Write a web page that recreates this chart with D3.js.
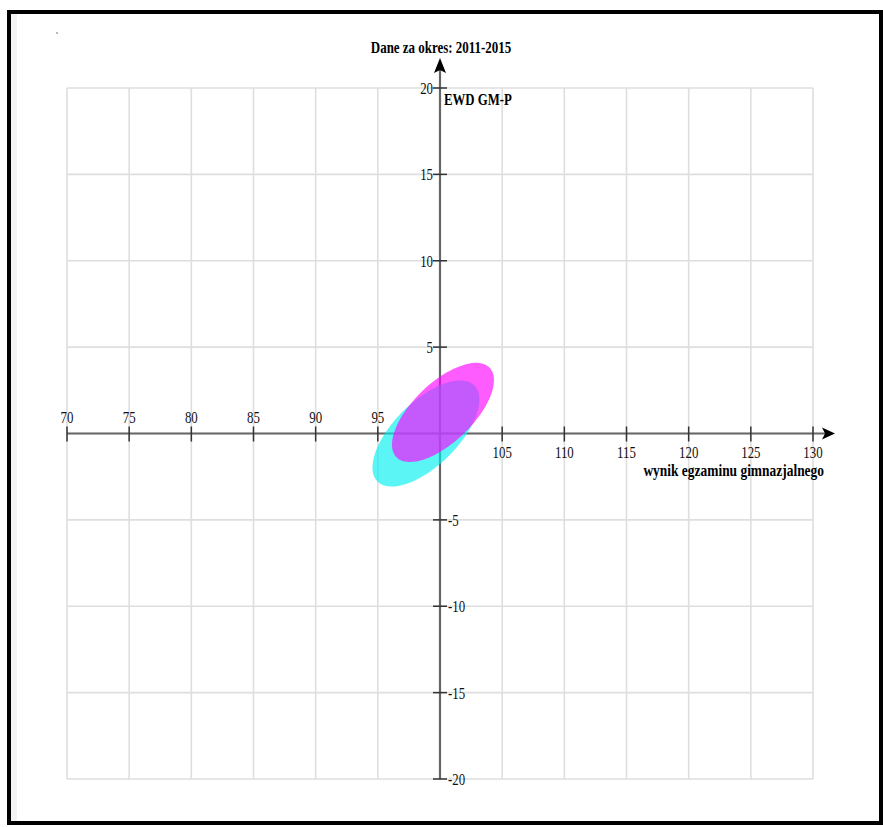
<!DOCTYPE html>
<html><head><meta charset="utf-8">
<script src="https://cdn.jsdelivr.net/npm/d3@7"></script>
<style>body{margin:0;background:#fff}svg{display:block}</style>
</head><body>
<svg id="c" width="883" height="827"></svg>
<script>
// ---- data ----
const xTicks = [70,75,80,85,90,95,100,105,110,115,120,125,130];
const yTicks = [20,15,10,5,0,-5,-10,-15,-20];
const titleText = "Dane za okres: 2011-2015";
const yAxisTitle = "EWD GM-P";
const xAxisTitle = "wynik egzaminu gimnazjalnego";
// ellipses (data space): centre, half-extent in x and y, correlation
const ellipseNames = ["cyan", "magenta"];
const ellipseCx = [98.87, 100.24];
const ellipseCy = [0.0, 1.22];
const ellipseSx = [4.3, 4.1];
const ellipseSy = [3.07, 2.87];
const ellipseRho = [0.64, 0.65];
const ellipseColors = ["#00f0f0", "#ff00ff"];

// ---- drawing ----
const svg = d3.select("#c");
const x = d3.scaleLinear().domain([70,130]).range([67,813]);
const y = d3.scaleLinear().domain([-20,20]).range([779,88]);
const x0 = x(100), y0 = y(0);
const serif = "'Liberation Serif','Times New Roman',serif";

// frame
svg.append("rect").attr("x",11).attr("y",14).attr("width",6).attr("height",808).attr("fill","#f3f3f3");
svg.append("rect").attr("x",9).attr("y",12).attr("width",872).attr("height",811)
  .attr("fill","none").attr("stroke","#000").attr("stroke-width",4);
svg.append("circle").attr("cx",57).attr("cy",33).attr("r",0.9).attr("fill","#999");

// grid
const grid = svg.append("g").attr("stroke","#dedede").attr("stroke-width",1.6);
grid.selectAll("line.v").data(xTicks).join("line")
  .attr("x1",d=>x(d)).attr("x2",d=>x(d)).attr("y1",y(20)).attr("y2",y(-20));
grid.selectAll("line.h").data(yTicks).join("line")
  .attr("y1",d=>y(d)).attr("y2",d=>y(d)).attr("x1",x(70)).attr("x2",x(130));

// axes
const axCol = "#666";
svg.append("line").attr("x1",x(70)).attr("x2",x(130)+16).attr("y1",y0).attr("y2",y0)
  .attr("stroke",axCol).attr("stroke-width",2.2);
svg.append("line").attr("x1",x0).attr("x2",x0).attr("y1",y(-20)).attr("y2",y(20)-24)
  .attr("stroke",axCol).attr("stroke-width",2.2);
svg.append("path").attr("d",`M${x(130)+22},${y0} L${x(130)+9},${y0-6} L${x(130)+12},${y0} L${x(130)+9},${y0+6}Z`).attr("fill","#000");
svg.append("path").attr("d",`M${x0},${y(20)-30} L${x0-6},${y(20)-15} L${x0},${y(20)-18} L${x0+6},${y(20)-15}Z`).attr("fill","#000");

// x ticks
const xt = xTicks.filter(d=>d!==100);
svg.append("g").selectAll("line").data(xt).join("line")
  .attr("x1",d=>x(d)).attr("x2",d=>x(d)).attr("y1",y0-7).attr("y2",y0+8)
  .attr("stroke","#333").attr("stroke-width",1.5);
const tickText = (sel)=>sel.attr("font-family",serif).attr("font-size",16.5).attr("fill","#111");
svg.append("g").selectAll("text").data(xt).join("text")
  .attr("transform",d=>`translate(${x(d)},${d<100?y0-11:y0+24}) scale(0.78,1)`)
  .attr("text-anchor","middle").text(d=>d).call(tickText);

// y ticks
const yt = yTicks.filter(d=>d!==0);
svg.append("g").selectAll("line").data(yt).join("line")
  .attr("y1",d=>y(d)).attr("y2",d=>y(d)).attr("x1",x0-7).attr("x2",x0+7)
  .attr("stroke","#333").attr("stroke-width",1.5);
svg.append("g").selectAll("text").data(yt).join("text")
  .attr("transform",d=>d>0?`translate(${x0-7},${y(d)+6}) scale(0.78,1)`:`translate(${x0+8},${y(d)+6}) scale(0.78,1)`)
  .attr("text-anchor",d=>d>0?"end":"start").text(d=>d).call(tickText);

// ellipses
const ts = d3.range(0, 361, 3).map(a=>a*Math.PI/180);
ellipseNames.forEach((n,i)=>{
  const pts = ts.map(t=>[
    x(ellipseCx[i] + ellipseSx[i]*Math.cos(t)),
    y(ellipseCy[i] + ellipseSy[i]*(ellipseRho[i]*Math.cos(t) + Math.sqrt(1-ellipseRho[i]**2)*Math.sin(t)))
  ]);
  svg.append("path").attr("d", d3.line().curve(d3.curveCardinalClosed)(pts.slice(0,-1)))
    .attr("fill", ellipseColors[i]).attr("fill-opacity",0.64).attr("stroke","none");
});

// titles
const bold = (sel)=>sel.attr("font-family",serif).attr("font-weight","bold").attr("font-size",16).attr("fill","#000");
svg.append("text").attr("transform",`translate(${x0+1},53) scale(0.81,1)`).attr("text-anchor","middle").text(titleText).call(bold);
svg.append("text").attr("transform",`translate(${x0+4},105) scale(0.8,1)`).attr("text-anchor","start").text(yAxisTitle).call(bold);
svg.append("text").attr("transform",`translate(824,476) scale(0.84,1)`).attr("text-anchor","end").text(xAxisTitle).call(bold);
</script>
</body></html>
